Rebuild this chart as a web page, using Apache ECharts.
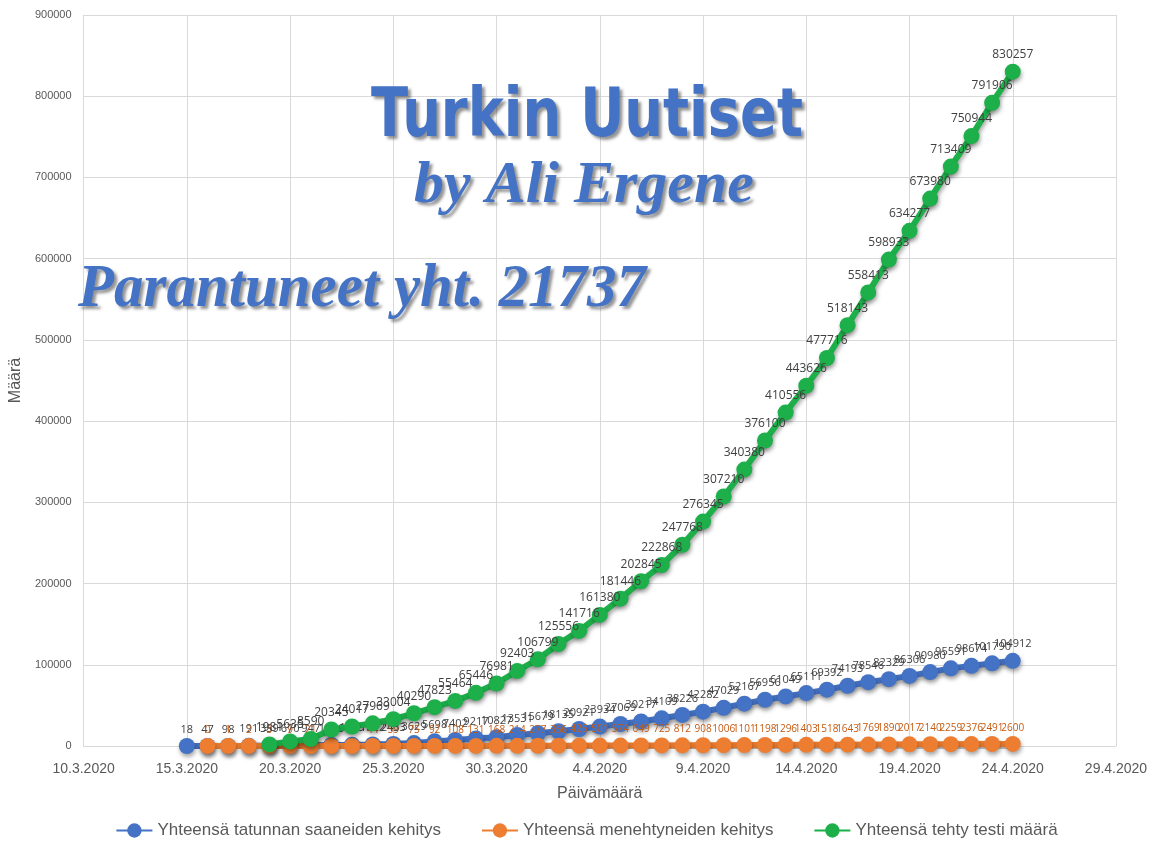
<!DOCTYPE html>
<html>
<head>
<meta charset="utf-8">
<script src="https://cdn.jsdelivr.net/npm/echarts@6/dist/echarts.min.js"></script>
<style>
html,body{margin:0;padding:0;background:#fff;}
#chart{width:1173px;height:858px;}
</style>
</head>
<body>
<div id="chart"></div>
<script>
// ---- DATA ----
const axisStartDate = '10.3.2020';
const axisEndDate = '29.4.2020';
const dates = ['15.3.2020','16.3.2020','17.3.2020','18.3.2020','19.3.2020','20.3.2020','21.3.2020','22.3.2020','23.3.2020','24.3.2020',
  '25.3.2020','26.3.2020','27.3.2020','28.3.2020','29.3.2020','30.3.2020','31.3.2020','1.4.2020','2.4.2020','3.4.2020',
  '4.4.2020','5.4.2020','6.4.2020','7.4.2020','8.4.2020','9.4.2020','10.4.2020','11.4.2020','12.4.2020','13.4.2020',
  '14.4.2020','15.4.2020','16.4.2020','17.4.2020','18.4.2020','19.4.2020','20.4.2020','21.4.2020','22.4.2020','23.4.2020','24.4.2020'];
const cases = [18,47,98,191,359,670,947,1236,1529,1872,
  2433,3629,5698,7402,9217,10827,13531,15679,18135,20921,
  23934,27069,30217,34109,38226,42282,47029,52167,56956,61049,
  65111,69392,74193,78546,82329,86306,90980,95591,98674,101790,104912];
const deaths = [null,0,1,2,3,9,21,30,37,44,
  59,75,92,108,131,168,214,277,356,425,
  501,574,649,725,812,908,1006,1101,1198,1296,
  1403,1518,1643,1769,1890,2017,2140,2259,2376,2491,2600];
const tests = [null,null,null,null,1981,5635,8590,20345,24017,27969,
  33004,40290,47823,55464,65446,76981,92403,106799,125556,141716,
  161380,181446,202845,222868,247768,276345,307210,340380,376100,410556,
  443626,477716,518143,558413,598933,634277,673980,713409,750944,791906,830257];
const seriesNames = ['Yhteensä tatunnan saaneiden kehitys','Yhteensä menehtyneiden kehitys','Yhteensä tehty testi määrä'];
const titleMain = 'Turkin Uutiset';
const titleSub = 'by Ali Ergene';
const titleRecovered = 'Parantuneet yht. 21737';
const xAxisTitle = 'Päivämäärä';
const yAxisTitle = 'Määrä';

// ---- helpers ----
function parseDate(s){const p=s.split('.').map(Number);return Date.UTC(p[2],p[1]-1,p[0]);}
const base = parseDate(axisStartDate);
const DAY = 86400000;
function dayOf(s){return Math.round((parseDate(s)-base)/DAY);}
function fmtDay(v){const d=new Date(base+v*DAY);return d.getUTCDate()+'.'+(d.getUTCMonth()+1)+'.'+d.getUTCFullYear();}
function pairs(vals){return dates.map((d,i)=>[dayOf(d),vals[i]]).filter(p=>p[1]!==null);}

const shadow = {shadowColor:'rgba(0,0,0,0.35)',shadowBlur:4,shadowOffsetX:1,shadowOffsetY:3};
function mkSeries(name,vals,color,labelColor,labelSize,z){
  return {
    name:name,type:'line',data:pairs(vals),z:z,
    symbol:'circle',symbolSize:16,showSymbol:true,
    lineStyle:Object.assign({width:6,color:color},shadow),
    itemStyle:Object.assign({color:color},shadow),
    label:{show:true,position:'top',distance:3,color:labelColor,fontSize:labelSize,fontFamily:'Open Sans, Liberation Sans, sans-serif'},
    emphasis:{disabled:true},animation:false
  };
}

const chart = echarts.init(document.getElementById('chart'),null,{renderer:'canvas'});
const wordArt = {fill:'#4472C4',textShadowColor:'rgba(60,60,60,0.55)',textShadowBlur:3,textShadowOffsetX:3,textShadowOffsetY:3};
chart.setOption({
  backgroundColor:'#ffffff',
  animation:false,
  grid:{left:83,right:57,top:15,bottom:112},
  xAxis:{type:'value',min:0,max:dayOf(axisEndDate),interval:5,
    name:xAxisTitle,nameLocation:'middle',nameGap:40,
    nameTextStyle:{color:'#595959',fontSize:16,fontFamily:'Liberation Sans, sans-serif'},
    axisLine:{show:true,lineStyle:{color:'#d9d9d9'}},axisTick:{show:false},
    axisLabel:{formatter:fmtDay,color:'#595959',fontSize:14,margin:16,fontFamily:'Liberation Sans, sans-serif'},
    splitLine:{show:true,lineStyle:{color:'#d9d9d9'}}},
  yAxis:{type:'value',min:0,max:900000,interval:100000,
    name:yAxisTitle,nameLocation:'middle',nameGap:54,nameRotate:90,
    nameTextStyle:{color:'#595959',fontSize:16,fontFamily:'Liberation Sans, sans-serif'},
    axisLine:{show:false},axisTick:{show:false},
    axisLabel:{formatter:v=>String(v),color:'#595959',fontSize:11,margin:12,fontFamily:'Liberation Sans, sans-serif'},
    splitLine:{show:true,lineStyle:{color:'#d9d9d9'}}},
  legend:{bottom:14,left:'center',itemGap:40,itemWidth:36,itemHeight:18,
    textStyle:{color:'#595959',fontSize:17,fontFamily:'Liberation Sans, sans-serif'},
    data:seriesNames},
  series:[
    mkSeries(seriesNames[0],cases,'#4472C4','#404040',11,3),
    mkSeries(seriesNames[1],deaths,'#ED7D31','#C55A11',10,4),
    mkSeries(seriesNames[2],tests,'#1DB04A','#404040',12,5)
  ],
  graphic:[
    {type:'text',x:587,y:118,scaleX:0.8,z:1,silent:true,
      style:Object.assign({text:titleMain,x:0,y:0,align:'center',verticalAlign:'middle',font:'bold 68px "DejaVu Sans", sans-serif'},wordArt)},
    {type:'text',x:584,y:186,scaleX:1.0,z:1,silent:true,
      style:Object.assign({text:titleSub,x:0,y:0,align:'center',verticalAlign:'middle',font:'italic bold 60px "Liberation Serif", serif'},wordArt)},
    {type:'text',x:362,y:290,scaleX:0.95,z:1,silent:true,
      style:Object.assign({text:titleRecovered,x:0,y:0,align:'center',verticalAlign:'middle',font:'italic bold 62px "Liberation Serif", serif'},wordArt)}
  ]
});
</script>
</body>
</html>
